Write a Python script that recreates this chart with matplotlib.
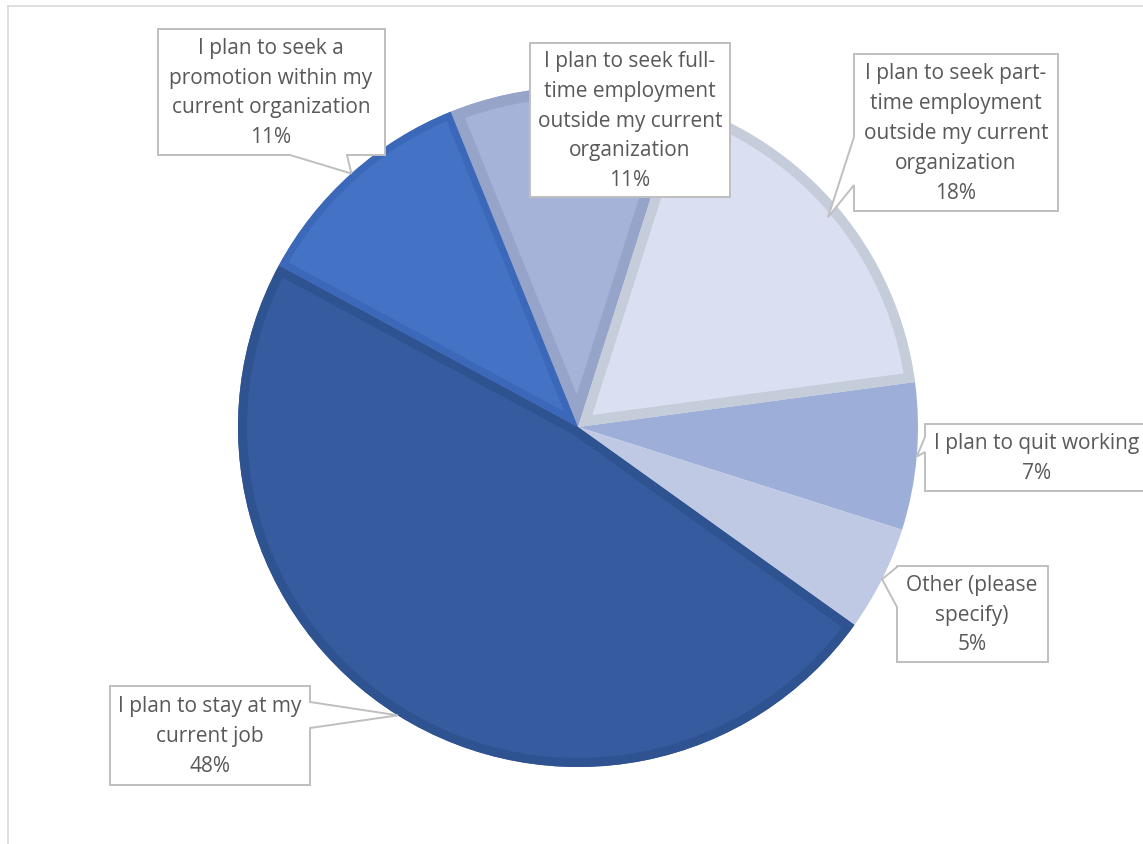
import textwrap
import numpy as np
import matplotlib
matplotlib.use("Agg")
import matplotlib.pyplot as plt
from matplotlib.patches import Polygon, Wedge

# survey answers, clockwise from just left of 12 o'clock
categories = [
    "I plan to seek full-time employment outside my current organization",
    "I plan to seek part-time employment outside my current organization",
    "I plan to quit working",
    "Other (please specify)",
    "I plan to stay at my current job",
    "I plan to seek a promotion within my current organization",
]
percents = [11, 18, 7, 5, 48, 11]

face_colors = ["#A5B3D9", "#DAE0F1", "#9DAED8", "#BFC9E4", "#365C9F", "#4472C4"]
edge_colors = ["#96A4CA", "#C5CCDA", "#9DAED8", "#BFC9E4", "#2F5391", "#3B68B8"]
edge_px = [11, 10, 0, 0, 9, 7]

# label boxes in pixels (left, top, right, bottom), wrap width, tail spec
boxes = [
    (530, 43, 730, 197),
    (854, 54, 1058, 211),
    (925, 424, 1150, 491),
    (897, 566, 1048, 662),
    (110, 686, 310, 785),
    (158, 29, 385, 155),
]
wraps = [20, 20, 22, 20, 20, 20]
tails = [None, ("left", 137, 185), ("left", 437, 452), ("left", 567, 607),
         ("right", 702, 728), ("bottom", 290, 347)]
tip_r = [1.0, 0.96, 1.0, 1.0, 1.0, 1.0]
text_x = [630, 956, 1037, 972, 210, 271]

W, H = 1143, 844
cx, cy, R = 578, 427, 340

fig = plt.figure(figsize=(W / 100, H / 100), dpi=100)
ax = fig.add_axes([0, 0, 1, 1])

# y axis runs downward, so counterclock=True turns clockwise on screen
wedges, _ = ax.pie(percents, colors=face_colors, startangle=248, counterclock=True,
                   center=(cx, cy), radius=R, frame=True)
ax.set_xlim(0, W)
ax.set_ylim(H, 0)
ax.set_aspect("equal")
ax.axis("off")

# borders sit inside each slice: stroke twice as wide, clipped to the slice
for w, ec, px in zip(wedges, edge_colors, edge_px):
    w.set_linewidth(0)
    if px == 0:
        continue
    rim = Wedge((cx, cy), R, w.theta1, w.theta2, facecolor="none", edgecolor=ec,
                linewidth=2 * px * 0.72, transform=ax.transData, zorder=2)
    clip = Wedge((cx, cy), R, w.theta1, w.theta2, transform=ax.transData)
    ax.add_patch(rim)
    rim.set_clip_path(clip)

for i, w in enumerate(wedges):
    x0, y0, x1, y1 = boxes[i]
    mid = np.deg2rad((w.theta1 + w.theta2) / 2)
    tip = (cx + tip_r[i] * R * np.cos(mid), cy + tip_r[i] * R * np.sin(mid))
    pts = [(x0, y0), (x1, y0), (x1, y1), (x0, y1)]
    t = tails[i]
    if t is not None:
        side, b1, b2 = t
        if side == "left":
            pts = [(x0, y0), (x1, y0), (x1, y1), (x0, y1), (x0, b2), tip, (x0, b1)]
        elif side == "right":
            pts = [(x0, y0), (x1, y0), (x1, b1), tip, (x1, b2), (x1, y1), (x0, y1)]
        elif side == "bottom":
            pts = [(x0, y0), (x1, y0), (x1, y1), (b2, y1), tip, (b1, y1), (x0, y1)]
    ax.add_patch(Polygon(pts, closed=True, facecolor="white", edgecolor="#BFBFBF",
                         linewidth=1.4, zorder=5))
    label = textwrap.fill(categories[i], width=wraps[i]) + "\n" + f"{percents[i]}%"
    ax.text(text_x[i], (y0 + y1) / 2 + 1, label, ha="center", va="center", fontsize=15,
            family="Open Sans", color="#595959", linespacing=1.55, zorder=6)

# chart area outline
fig.add_artist(plt.Line2D([8 / W, 1], [1 - 6 / H, 1 - 6 / H], color="#D9D9D9", lw=1.2))
fig.add_artist(plt.Line2D([8 / W, 8 / W], [0, 1 - 6 / H], color="#D9D9D9", lw=1.2))

fig.savefig("out.png", dpi=100)
